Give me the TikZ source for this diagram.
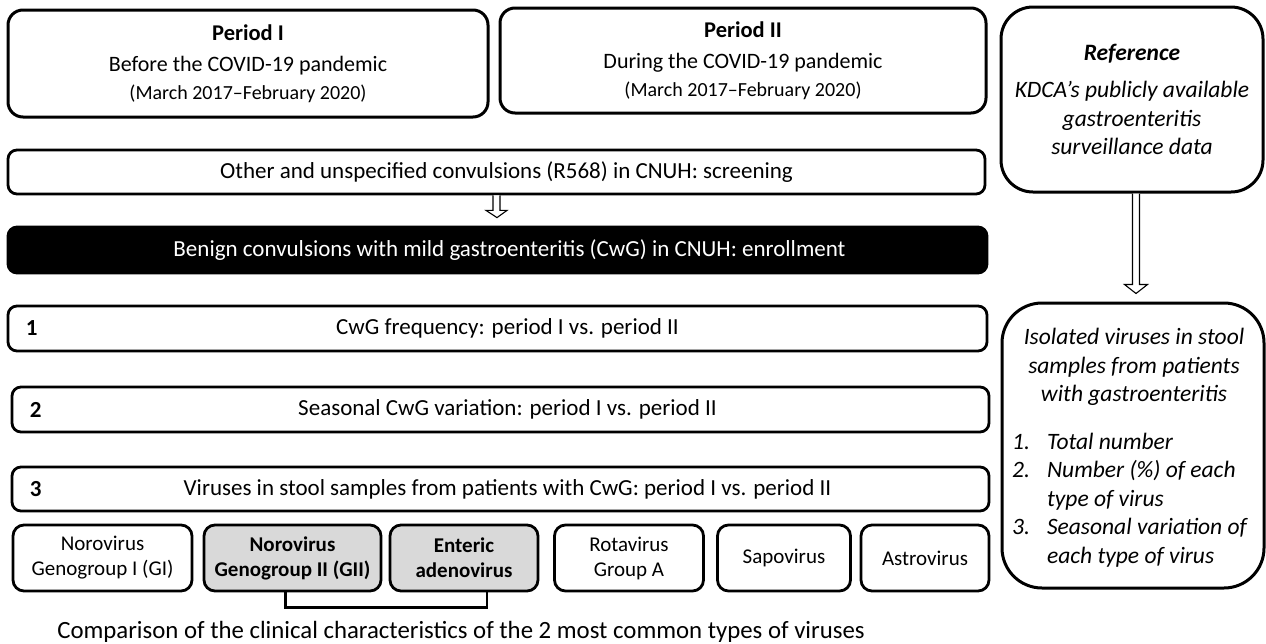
\documentclass[tikz,border=0pt]{standalone}
\usepackage{fontspec}
\setmainfont{Carlito}
\usetikzlibrary{calc}
\newcommand{\fsz}[2]{\fontsize{#1}{#2}\selectfont}
\begin{document}
\begin{tikzpicture}[x=1pt,y=-1pt,
  rbox/.style={draw, line width=2.8pt, rounded corners=9pt, inner sep=0pt, align=center, font=\fsz{23}{28}},
  pbox/.style={draw, line width=3pt, rounded corners=15pt, inner sep=0pt, align=center, font=\fsz{22}{27.5}},
  bigbox/.style={draw, line width=3pt, rounded corners=32pt, inner sep=0pt, align=center, font=\fsz{23.5}{28.6}},
  vbox/.style={draw, line width=2.8pt, rounded corners=11pt, inner sep=0pt, minimum height=66pt, align=center, font=\fsz{21}{25}},
  gbox/.style={vbox, fill=black!15, font=\fsz{21}{25}\bfseries},
  blockarrow/.style={draw, line width=1.1pt, fill=white, line join=miter},
  num/.style={font=\fsz{23}{28}\bfseries, anchor=west, inner sep=0pt},
  plain/.style={inner sep=0pt}
]
\useasboundingbox (0,0) rectangle (1266,643);

% Period boxes
\node[pbox, minimum width=480pt, minimum height=107pt] (p1) at (248,63.5)
  {{\fsz{22.5}{27.5}\bfseries Period I}\\[4pt]Before the COVID-19 pandemic\\{\fsz{20}{27.5}(March 2017–February 2020)}};
\node[pbox, minimum width=486pt, minimum height=105pt] (p2) at (743,60.5)
  {{\fsz{22.5}{27.5}\bfseries Period II}\\[4pt]During the COVID-19 pandemic\\{\fsz{20}{27.5}(March 2017–February 2020)}};

% Reference box
\node[bigbox, minimum width=262pt, minimum height=185pt] (ref) at (1132,99.5)
  {\textbf{\textit{Reference}}\\[9pt]\textit{KDCA’s publicly available}\\\textit{gastroenteritis}\\\textit{surveillance data}};

% Screening and enrollment
\node[rbox, minimum width=977pt, minimum height=44pt] (scr) at (496.5,172)
  {\hspace*{20pt}Other and unspecified convulsions (R568) in CNUH: screening};
\node[rbox, draw=black, fill=black, text=white, minimum width=979pt, minimum height=46pt] (blk) at (497.5,250)
  {\hspace*{24pt}Benign convulsions with mild gastroenteritis (CwG) in CNUH: enrollment};

% Numbered boxes
\node[rbox, minimum width=979pt, minimum height=45pt] (b1) at (497.5,328.5)
  {\hspace*{20pt}CwG frequency: period I vs. period II};
\node[rbox, minimum width=977pt, minimum height=45pt] (b2) at (500.5,409.5)
  {\hspace*{14pt}Seasonal CwG variation: period I vs. period II};
\node[rbox, minimum width=977pt, minimum height=44pt] (b3) at (500.5,489)
  {\hspace*{14pt}Viruses in stool samples from patients with CwG: period I vs. period II};
\node[num] (n1) at ($(b1.west)+(19,0)$) {1};
\node[num] (n2) at ($(b2.west)+(19,0)$) {2};
\node[num] (n3) at ($(b3.west)+(19,0)$) {3};

% Virus boxes
\node[vbox, minimum width=179pt] (v1) at (102.5,558) {Norovirus\\Genogroup I (GI)};
\node[gbox, minimum width=177pt] (v2) at (292.5,558) {Norovirus\\Genogroup II (GII)};
\node[gbox, minimum width=148pt] (v3) at (464,558) {Enteric\\adenovirus};
\node[vbox, minimum width=149pt] (v4) at (629,558) {Rotavirus\\Group A};
\node[vbox, minimum width=133pt] (v5) at (784,558) {Sapovirus};
\node[vbox, minimum width=128pt] (v6) at (925,558) {Astrovirus};

% Bracket
\draw[line width=2.8pt] ($(v2.south)+(-7,0)$) -- ++(0,15) -| ($(v3.south)+(23,0)$);
\node[plain, font=\fsz{24.8}{30}] (cmp) at (461,632)
  {Comparison of the clinical characteristics of the 2 most common types of viruses};

% Isolated viruses box
\node[bigbox, minimum width=262pt, minimum height=285pt, rounded corners=40pt] (iso) at (1133,445.5) {};
\node[plain, align=center, font=\fsz{23.5}{28.6}\itshape] (isoh) at (1134,367)
  {Isolated viruses in stool\\samples from patients\\with gastroenteritis};
\node[plain, anchor=west, font=\fsz{23.5}{28.6}\itshape] (isol) at (1012,500.5)
  {\begin{tabular}{@{}l@{\hspace{17pt}}l@{}}1. & Total number\\2. & Number (\%) of each\\ & type of virus\\3. & Seasonal variation of\\ & each type of virus\end{tabular}};

% Block arrows
\draw[blockarrow] ($(scr.south)+(-3.5,0)$) -- ($(scr.south)+(-3.5,15)$) -- ($(scr.south)+(-10.5,15)$)
  -- ($(blk.north)+(-0.5,-8)$) -- ($(scr.south)+(10.5,15)$) -- ($(scr.south)+(3.5,15)$) -- ($(scr.south)+(3.5,0)$);
\draw[blockarrow] ($(ref.south)+(0.5,0)$) -- ($(ref.south)+(0.5,91)$) -- ($(ref.south)+(-7.5,91)$)
  -- ($(iso.north)+(3,-8)$) -- ($(ref.south)+(15.5,91)$) -- ($(ref.south)+(7.5,91)$) -- ($(ref.south)+(7.5,0)$);
\end{tikzpicture}
\end{document}
